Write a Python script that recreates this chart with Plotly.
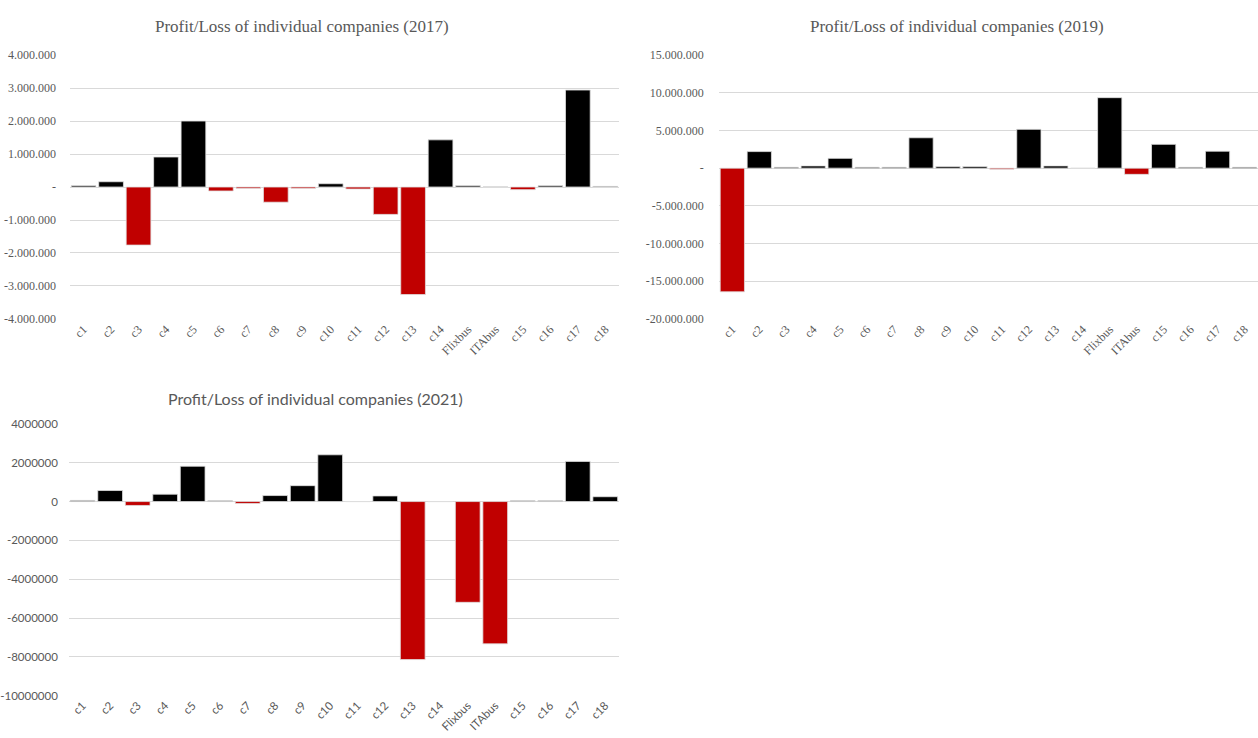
import plotly.graph_objects as go

W, H = 1258, 738

categories = ["c1", "c2", "c3", "c4", "c5", "c6", "c7", "c8", "c9", "c10", "c11",
              "c12", "c13", "c14", "Flixbus", "ITAbus", "c15", "c16", "c17", "c18"]

values_2017 = [40000, 160000, -1760000, 910000, 2000000, -120000, -40000, -460000,
               -40000, 100000, -60000, -830000, -3260000, 1430000, 40000, 5000,
               -80000, 40000, 2940000, 20000]

values_2019 = [-16400000, 2200000, 120000, 300000, 1300000, 120000, 120000, 4030000,
               220000, 220000, -150000, 5150000, 300000, 0, 9350000, -820000,
               3160000, 120000, 2250000, 120000]

values_2021 = [60000, 570000, -200000, 380000, 1820000, 40000, -100000, 310000,
               820000, 2410000, 0, 290000, -8140000, 0, -5190000, -7330000,
               40000, 40000, 2070000, 250000]

ticks_2017 = [4000000, 3000000, 2000000, 1000000, 0, -1000000, -2000000, -3000000, -4000000]
ticktext_2017 = ["4.000.000", "3.000.000", "2.000.000", "1.000.000", "-",
                 "-1.000.000", "-2.000.000", "-3.000.000", "-4.000.000"]

ticks_2019 = [15000000, 10000000, 5000000, 0, -5000000, -10000000, -15000000, -20000000]
ticktext_2019 = ["15.000.000", "10.000.000", "5.000.000", "-", "-5.000.000",
                 "-10.000.000", "-15.000.000", "-20.000.000"]

ticks_2021 = [4000000, 2000000, 0, -2000000, -4000000, -6000000, -8000000, -10000000]
ticktext_2021 = ["4000000", "2000000", "0", "-2000000", "-4000000", "-6000000",
                 "-8000000", "-10000000"]

titles = ["Profit/Loss of individual companies (2017)",
          "Profit/Loss of individual companies (2019)",
          "Profit/Loss of individual companies (2021)"]

POS, NEG = "#000000", "#C00000"
GRID = "#D9D9D9"
TXT = "#595959"
SERIF = "Liberation Serif"
SANS = "Lato"


def fx(p):
    return min(max(p / W, 0.0), 1.0)


def fy(p):
    return min(max(1 - p / H, 0.0), 1.0)


def px_x(a, b):
    return [fx(a), fx(b)]


def px_y(top, bottom):
    return [fy(bottom), fy(top)]


fig = go.Figure()

panels = [
    (values_2017, "x", "y", px_x(68, 618), px_y(49, 318), [-4000000, 4000000], ticks_2017, ticktext_2017, SERIF, 13),
    (values_2019, "x2", "y2", px_x(718, 1258), px_y(49, 318), [-20000000, 15000000], ticks_2019, ticktext_2019, SERIF, 14),
    (values_2021, "x3", "y3", px_x(67, 618), px_y(425, 702), [-10000000, 4000000], ticks_2021, ticktext_2021, SANS, 10),
]

layout_axes = {}
for i, (vals, xa, ya, xd, yd, rng, tv, tt, font, standoff) in enumerate(panels):
    colors = [POS if v >= 0 else NEG for v in vals]
    fig.add_trace(go.Bar(
        x=categories, y=vals, xaxis=xa, yaxis=ya,
        marker=dict(color=colors, line=dict(color="#E0E0E0", width=0.8)),
        showlegend=False, hoverinfo="x+y",
    ))
    sfx = "" if i == 0 else str(i + 1)
    layout_axes["xaxis" + sfx] = dict(
        domain=xd, anchor="y" + sfx, type="category", tickangle=-45,
        showgrid=False, zeroline=False, showline=False, ticks="",
        tickfont=dict(family=font, size=12 if font == SERIF else 11.5, color=TXT),
        fixedrange=True,
    )
    layout_axes["yaxis" + sfx] = dict(
        domain=yd, anchor="x" + sfx, range=rng, tickmode="array",
        tickvals=tv, ticktext=tt, showgrid=True, gridcolor=GRID, gridwidth=1,
        zeroline=False, showline=False, ticks="", ticklabelstandoff=standoff,
        tickfont=dict(family=font, size=12 if font == SERIF else 11.5, color=TXT),
        fixedrange=True,
    )

annotations = [
    dict(text=titles[0], x=fx(300), y=fy(20), xref="paper", yref="paper",
         showarrow=False, xanchor="center", yanchor="middle",
         font=dict(family=SERIF, size=17, color=TXT)),
    dict(text=titles[1], x=fx(957), y=fy(20), xref="paper", yref="paper",
         showarrow=False, xanchor="center", yanchor="middle",
         font=dict(family=SERIF, size=17, color=TXT)),
    dict(text=titles[2], x=fx(314), y=fy(399), xref="paper", yref="paper",
         showarrow=False, xanchor="center", yanchor="middle",
         font=dict(family=SANS, size=16, color=TXT)),
]

fig.update_layout(
    width=W, height=H, autosize=False, margin=dict(l=0, r=0, t=0, b=0),
    paper_bgcolor="white", plot_bgcolor="white",
    bargap=0.1, annotations=annotations, **layout_axes,
)

# remove the browser's default body margin so the 1258x738 figure fills the page exactly
page_css = ("document.documentElement.style.margin='0';"
            "document.body.style.margin='0';"
            "document.body.style.overflow='hidden';")

fig.write_html("out.html", config={"displayModeBar": False}, post_script=page_css)
